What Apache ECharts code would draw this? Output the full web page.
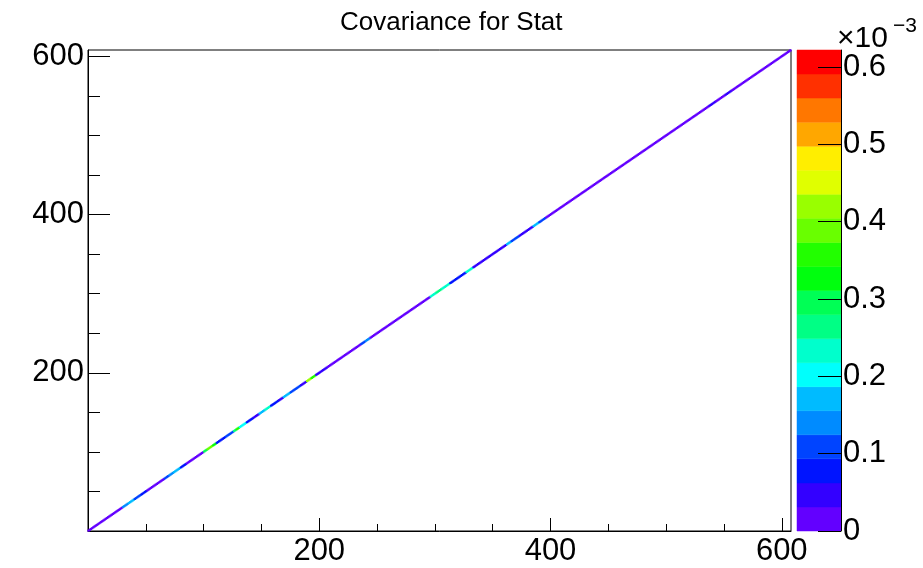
<!DOCTYPE html>
<html>
<head>
<meta charset="utf-8">
<script src="https://cdn.jsdelivr.net/npm/echarts@6/dist/echarts.min.js"></script>
<style>
html,body{margin:0;padding:0;background:#fff;}
#chart{width:923px;height:568px;}
</style>
</head>
<body>
<div id="chart"></div>
<script>
// ---------------- data ----------------
const titleText = 'Covariance for Stat';
const nBins = 608;                 // matrix is nBins x nBins, axes 0..nBins
const zMax = 0.622;                // colour scale maximum (x 10^-3)
const nContours = 20;
const axisMajorTicks = [200, 400, 600];
const axisMinorTicks = [50, 100, 150, 250, 300, 350, 450, 500, 550];
const zTicks = [0, 0.1, 0.2, 0.3, 0.4, 0.5, 0.6];
// diagonal covariance values (x 10^-3), read off the picture as runs:
// [first bin, bin after last, value]; off-diagonal cells are empty
const diagRuns = [
  [0, 30, 0.015], [30, 35, 0.14], [35, 40, 0.17], [40, 46, 0.11], [46, 51, 0.078],
  [51, 66, 0.015], [66, 70, 0.11], [70, 74, 0.14], [74, 80, 0.17], [80, 85, 0.078],
  [85, 100, 0.02], [100, 103, 0.30], [103, 108, 0.39], [108, 111, 0.33], [111, 119, 0.078],
  [119, 126, 0.11], [126, 128, 0.265], [128, 131, 0.36], [131, 137, 0.20], [137, 143, 0.078],
  [143, 148, 0.045], [148, 153, 0.17], [153, 158, 0.22], [158, 165, 0.078], [165, 169, 0.045],
  [169, 175, 0.17], [175, 184, 0.095], [184, 189, 0.045], [189, 193, 0.42], [193, 197, 0.36],
  [197, 207, 0.06], [207, 236, 0.015], [236, 240, 0.11], [240, 244, 0.14], [244, 296, 0.015],
  [296, 301, 0.23], [301, 306, 0.26], [306, 313, 0.24], [313, 327, 0.078], [327, 333, 0.22],
  [333, 362, 0.04], [362, 366, 0.18], [366, 373, 0.10], [373, 385, 0.04], [385, 390, 0.17],
  [390, 396, 0.10], [396, 537, 0.015], [537, 543, 0.04], [543, 551, 0.015], [551, 557, 0.04],
  [557, 608, 0.015]
];
// ROOT "pretty" palette sampled at 20 contour levels (low -> high)
const paletteColors = [
  '#6300ff', '#3300ff', '#0014ff', '#0044ff', '#008bff', '#00bbff', '#00fffc', '#00ffcc',
  '#00ff85', '#00ff55', '#00ff0e', '#22ff00', '#69ff00', '#99ff00', '#e0ff00', '#ffee00',
  '#ffa700', '#ff7700', '#ff3000', '#ff0000'
];

// ---------------- build ----------------
const diagonalData = [];
diagRuns.forEach(function (r) {
  for (let i = r[0]; i < r[1]; i++) diagonalData.push([i, i, r[2]]);
});
const bandData = paletteColors.map(function (c, k) {
  return [k * zMax / nContours, (k + 1) * zMax / nContours, k];
});
const pieces = paletteColors.map(function (c, k) {
  const p = { gte: k * zMax / nContours, color: c };
  if (k < nContours - 1) p.lt = (k + 1) * zMax / nContours; else p.lte = zMax;
  return p;
});

const FONT = 'Liberation Sans, Arial, Helvetica, sans-serif';
const LABEL_SIZE = 31;

const chart = echarts.init(document.getElementById('chart'), null, { renderer: 'canvas' });
chart.setOption({
  animation: false,
  backgroundColor: '#fff',
  title: {
    text: titleText,
    left: 335, top: 5,
    textStyle: { fontFamily: FONT, fontSize: 26, fontWeight: 'normal', color: '#000' }
  },
  grid: [
    { left: 88, top: 50, width: 703, height: 481, show: true, borderColor: '#000', borderWidth: 1, backgroundColor: '#fff' },
    { left: 797, top: 50, width: 44, height: 481, show: false }
  ],
  visualMap: {
    type: 'piecewise', show: false, seriesIndex: 0, dimension: 2, pieces: pieces
  },
  xAxis: [
    { type: 'value', gridIndex: 0, min: 0, max: nBins, position: 'bottom',
      axisLine: { show: true, onZero: false, lineStyle: { color: '#000', width: 1 } },
      axisTick: { show: true, inside: true, length: 13, customValues: axisMajorTicks, lineStyle: { color: '#000' } },
      axisLabel: { show: true, customValues: axisMajorTicks, margin: 5, fontSize: LABEL_SIZE, fontFamily: FONT, color: '#000' },
      splitLine: { show: false } },
    { type: 'value', gridIndex: 0, min: 0, max: nBins, position: 'bottom',
      axisLine: { show: false, onZero: false },
      axisTick: { show: true, inside: true, length: 7, customValues: axisMinorTicks, lineStyle: { color: '#000' } },
      axisLabel: { show: false }, splitLine: { show: false } },
    { type: 'value', gridIndex: 1, min: 0, max: 1, show: false, axisLine: { onZero: false } }
  ],
  yAxis: [
    { type: 'value', gridIndex: 0, min: 0, max: nBins, position: 'left',
      axisLine: { show: true, onZero: false, lineStyle: { color: '#000', width: 1 } },
      axisTick: { show: true, inside: true, length: 22, customValues: axisMajorTicks, lineStyle: { color: '#000' } },
      axisLabel: { show: true, customValues: axisMajorTicks, margin: 4, fontSize: LABEL_SIZE, fontFamily: FONT, color: '#000' },
      splitLine: { show: false } },
    { type: 'value', gridIndex: 0, min: 0, max: nBins, position: 'left',
      axisLine: { show: false, onZero: false },
      axisTick: { show: true, inside: true, length: 12, customValues: axisMinorTicks, lineStyle: { color: '#000' } },
      axisLabel: { show: false }, splitLine: { show: false } },
    { type: 'value', gridIndex: 1, min: 0, max: zMax, position: 'right', z: 10,
      axisLine: { show: true, onZero: false, lineStyle: { color: '#000', width: 1 } },
      axisTick: { show: true, inside: true, length: 23, customValues: zTicks, lineStyle: { color: '#000' } },
      axisLabel: { show: true, customValues: zTicks, margin: 2, fontSize: LABEL_SIZE, fontFamily: FONT, color: '#000',
        formatter: function (v) { return v === 0 ? '0' : v.toFixed(1); } },
      splitLine: { show: false } }
  ],
  graphic: [
    { type: 'text', left: 837, top: 24, silent: true,
      style: { text: '×10', fontFamily: FONT, fontSize: 30, fill: '#000' } },
    { type: 'text', left: 893, top: 16, silent: true,
      style: { text: '−3', fontFamily: FONT, fontSize: 21, fill: '#000' } }
  ],
  series: [
    {
      type: 'custom', xAxisIndex: 0, yAxisIndex: 0, silent: true,
      data: diagonalData,
      renderItem: function (params, api) {
        const x = api.value(0), y = api.value(1);
        const p0 = api.coord([x, y]);
        const p1 = api.coord([x + 1, y + 1]);
        const c = api.visual('color');
        return {
          type: 'rect',
          shape: { x: p0[0], y: p1[1], width: p1[0] - p0[0], height: p0[1] - p1[1] },
          style: { fill: c, stroke: c, lineWidth: 1.3 }
        };
      }
    },
    {
      type: 'custom', xAxisIndex: 2, yAxisIndex: 2, silent: true, z: 1,
      data: bandData,
      renderItem: function (params, api) {
        const lo = api.value(0), hi = api.value(1), k = api.value(2);
        const a = api.coord([0, lo]);
        const b = api.coord([1, hi]);
        return {
          type: 'rect',
          shape: { x: a[0], y: b[1], width: b[0] - a[0], height: a[1] - b[1] },
          style: { fill: paletteColors[k], stroke: paletteColors[k], lineWidth: 0.5 }
        };
      }
    }
  ]
});
</script>
</body>
</html>
